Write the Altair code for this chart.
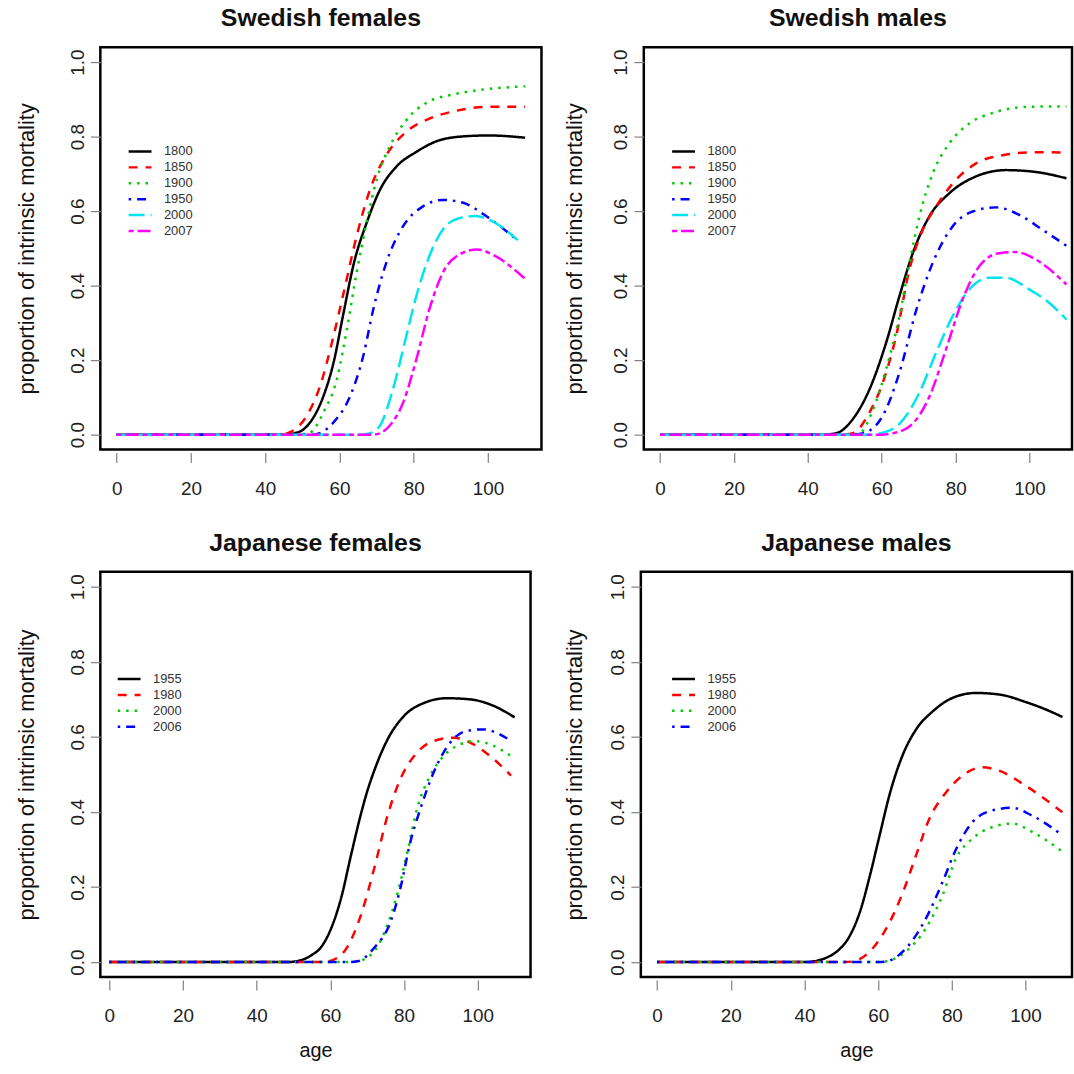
import altair as alt
import pandas as pd

FONT = "Liberation Sans"

x_ticks = [0, 20, 40, 60, 80, 100]
y_ticks = [0.0, 0.2, 0.4, 0.6, 0.8, 1.0]

# ---------------- Swedish females ----------------
sf_years = ["1800", "1850", "1900", "1950", "2000", "2007"]
sf_1800_age = [0, 45, 47, 50, 52.1, 55.7, 58.4, 61.1, 63.9, 67.3, 70.9, 75.3, 80.7, 86.9, 94, 100.3, 110]
sf_1800_val = [0, 0, 0.002, 0.012, 0.033, 0.104, 0.193, 0.327, 0.461, 0.568, 0.657, 0.719, 0.759, 0.79, 0.801, 0.803, 0.797]
sf_1850_age = [0, 44, 47, 51.2, 54.8, 58.4, 61.1, 64.6, 68.2, 72.6, 78, 84.2, 91.3, 100.3, 110]
sf_1850_val = [0, 0, 0.008, 0.051, 0.131, 0.265, 0.38, 0.532, 0.657, 0.75, 0.813, 0.848, 0.869, 0.88, 0.88]
sf_1900_age = [0, 48, 52, 55.7, 59.3, 62, 64.6, 67.3, 70, 73.5, 78, 84.2, 90, 95, 100, 105, 110]
sf_1900_val = [0, 0, 0.005, 0.06, 0.149, 0.283, 0.434, 0.568, 0.684, 0.773, 0.844, 0.895, 0.912, 0.921, 0.928, 0.932, 0.935]
sf_1950_age = [0, 52, 54, 58.4, 62.9, 66.4, 69.1, 72.6, 77.1, 82.4, 87.8, 93.1, 100.3, 108]
sf_1950_val = [0, 0, 0.002, 0.033, 0.104, 0.211, 0.336, 0.461, 0.559, 0.612, 0.63, 0.623, 0.581, 0.521]
sf_2000_age = [0, 66, 68, 70.9, 74.4, 78, 80.7, 84.2, 87.8, 92.2, 96.7, 102, 108]
sf_2000_val = [0, 0, 0.003, 0.024, 0.122, 0.265, 0.372, 0.479, 0.55, 0.581, 0.587, 0.568, 0.522]
sf_2007_age = [0, 69, 71, 73.5, 77.1, 80.7, 84.2, 87.8, 92.2, 97.1, 102, 110]
sf_2007_val = [0, 0, 0.004, 0.024, 0.085, 0.202, 0.336, 0.434, 0.483, 0.497, 0.479, 0.418]

# ---------------- Swedish males ----------------
sm_years = ["1800", "1850", "1900", "1950", "2000", "2007"]
sm_1800_age = [0, 44, 47.7, 52.2, 56.7, 61.2, 64.8, 68.4, 72.9, 78.3, 85.5, 93.6, 101.7, 110]
sm_1800_val = [0, 0, 0.004, 0.042, 0.122, 0.247, 0.372, 0.487, 0.586, 0.648, 0.693, 0.71, 0.705, 0.688]
sm_1850_age = [0, 49, 52.2, 56.7, 60.3, 63.9, 67.5, 71.1, 74.7, 79.2, 85.5, 92.7, 101.7, 110]
sm_1850_val = [0, 0, 0.004, 0.06, 0.14, 0.265, 0.443, 0.55, 0.612, 0.674, 0.728, 0.75, 0.758, 0.757]
sm_1900_age = [0, 50, 54, 57.6, 61.2, 64.8, 67.5, 70.2, 73.8, 78.3, 83.7, 90.9, 99.9, 110]
sm_1900_val = [0, 0, 0.004, 0.066, 0.176, 0.318, 0.461, 0.586, 0.701, 0.782, 0.835, 0.866, 0.88, 0.881]
sm_1950_age = [0, 52, 55, 60.3, 64.8, 69.4, 73.8, 79.2, 84.6, 90.9, 97.2, 103.5, 110]
sm_1950_val = [0, 0, 0.004, 0.051, 0.167, 0.336, 0.461, 0.559, 0.599, 0.61, 0.59, 0.55, 0.507]
sm_2000_age = [0, 57, 59.4, 64.8, 70.2, 74.7, 79.2, 83.7, 89.1, 93.6, 99.9, 105.3, 110]
sm_2000_val = [0, 0, 0.003, 0.029, 0.113, 0.22, 0.318, 0.39, 0.421, 0.421, 0.39, 0.354, 0.309]
sm_2007_age = [0, 60, 62.1, 67.5, 72.9, 77.4, 81.9, 86.4, 91.8, 96.3, 101.7, 110]
sm_2007_val = [0, 0, 0.002, 0.022, 0.102, 0.229, 0.363, 0.452, 0.487, 0.49, 0.47, 0.403]

# ---------------- Japanese females ----------------
jf_years = ["1955", "1980", "2000", "2006"]
jf_1955_age = [0, 48, 51.2, 54.8, 57.5, 60, 62.9, 65.6, 68.3, 70, 71.9, 75.5, 79.9, 85.3, 91.6, 97.9, 104.2, 110]
jf_1955_val = [0, 0, 0.003, 0.018, 0.04, 0.085, 0.17, 0.285, 0.395, 0.455, 0.51, 0.593, 0.655, 0.69, 0.703, 0.7, 0.683, 0.652]
jf_1980_age = [0, 56, 59.3, 63.8, 68.3, 71.9, 75.5, 79, 83.5, 88, 93.4, 97.9, 103.3, 109]
jf_1980_val = [0, 0, 0.002, 0.029, 0.126, 0.25, 0.39, 0.488, 0.558, 0.589, 0.598, 0.585, 0.549, 0.497]
jf_2000_age = [0, 65, 67.4, 71.9, 75.5, 78.1, 80.9, 83.5, 87.1, 90.7, 95.2, 98.8, 103.3, 109]
jf_2000_val = [0, 0, 0.002, 0.029, 0.1, 0.179, 0.294, 0.408, 0.497, 0.549, 0.58, 0.589, 0.58, 0.549]
jf_2006_age = [0, 65, 67.4, 71.9, 76.4, 79, 81.7, 84.4, 88, 92.5, 97, 101.5, 105.1, 109]
jf_2006_val = [0, 0, 0.002, 0.038, 0.109, 0.197, 0.32, 0.408, 0.505, 0.585, 0.616, 0.62, 0.611, 0.589]

# ---------------- Japanese males ----------------
jm_years = ["1955", "1980", "2000", "2006"]
jm_1955_age = [0, 40, 42.5, 46, 49, 52, 55.1, 57.8, 60.4, 63.2, 66.8, 70.3, 74.8, 80.2, 86.5, 92.8, 100, 105, 110]
jm_1955_val = [0, 0, 0.002, 0.012, 0.03, 0.065, 0.135, 0.232, 0.338, 0.45, 0.555, 0.62, 0.668, 0.704, 0.717, 0.713, 0.693, 0.675, 0.653]
jm_1980_age = [0, 51, 53.3, 57.8, 62.3, 66.8, 70.3, 73.9, 78.4, 82.9, 88.3, 92.8, 100, 110]
jm_1980_val = [0, 0, 0.002, 0.029, 0.091, 0.188, 0.285, 0.382, 0.452, 0.497, 0.519, 0.51, 0.47, 0.399]
jm_2000_age = [0, 60, 62.3, 67.6, 73, 77.5, 81.1, 85.6, 91, 96.3, 101.8, 110]
jm_2000_val = [0, 0, 0.002, 0.029, 0.091, 0.179, 0.276, 0.329, 0.36, 0.369, 0.347, 0.294]
jm_2006_age = [0, 60, 62.3, 67.6, 73, 77.5, 81.1, 85.6, 91, 96.3, 101.8, 110]
jm_2006_val = [0, 0, 0.002, 0.037, 0.117, 0.214, 0.3, 0.373, 0.404, 0.411, 0.39, 0.338]

# styles (R palette / lty)
col6 = ["#000000", "#FF0000", "#00CD00", "#0000FF", "#00E5EE", "#FF00FF"]
dash6 = [[1, 0], [9, 8], [2.5, 6], [2.5, 6, 9, 6], [16, 6], [5, 4, 13, 4]]
col4 = col6[:4]
dash4 = dash6[:4]


def frame(years, ages, vals):
    rows = []
    for yr, a, v in zip(years, ages, vals):
        for ai, vi in zip(a, v):
            rows.append({"year": yr, "age": ai, "value": vi})
    return pd.DataFrame(rows)


sf_df = frame(sf_years,
              [sf_1800_age, sf_1850_age, sf_1900_age, sf_1950_age, sf_2000_age, sf_2007_age],
              [sf_1800_val, sf_1850_val, sf_1900_val, sf_1950_val, sf_2000_val, sf_2007_val])
sm_df = frame(sm_years,
              [sm_1800_age, sm_1850_age, sm_1900_age, sm_1950_age, sm_2000_age, sm_2007_age],
              [sm_1800_val, sm_1850_val, sm_1900_val, sm_1950_val, sm_2000_val, sm_2007_val])
jf_df = frame(jf_years,
              [jf_1955_age, jf_1980_age, jf_2000_age, jf_2006_age],
              [jf_1955_val, jf_1980_val, jf_2000_val, jf_2006_val])
jm_df = frame(jm_years,
              [jm_1955_age, jm_1980_age, jm_2000_age, jm_2006_age],
              [jm_1955_val, jm_1980_val, jm_2000_val, jm_2006_val])


def panel(df, years, colors, dashes, title, width, height, xmin, xmax, xtitle,
          legend_x, legend_y, ytitle_pad):
    leg = alt.Legend(title=None, orient="none", legendX=legend_x, legendY=legend_y,
                     symbolType="stroke", symbolSize=529, symbolStrokeWidth=2.5,
                     labelFont=FONT, labelFontSize=13, labelColor="#333333",
                     labelOffset=11, rowPadding=0, clipHeight=16, padding=0)
    xkw = {"title": "age"} if xtitle else {"title": None}
    x = alt.X("age:Q",
              scale=alt.Scale(domain=[xmin, xmax], nice=False, zero=False),
              axis=alt.Axis(values=x_ticks, format="d", tickSize=10, tickColor="#808080",
                            tickWidth=1.2, domain=False, grid=False, offset=3,
                            labelPadding=17, labelFont=FONT, labelFontSize=19,
                            labelColor="#222222", titleFont=FONT, titleFontSize=20,
                            titleFontWeight="normal", titleColor="#111111",
                            titlePadding=15),
              **xkw)
    y = alt.Y("value:Q",
              scale=alt.Scale(domain=[-0.04, 1.04], nice=False, zero=False),
              axis=alt.Axis(values=y_ticks, format=".1f", labelAngle=270, labelAlign="center",
                            labelBaseline="bottom", tickSize=10, tickColor="#808080",
                            tickWidth=1.2, domain=False, grid=False, labelPadding=3,
                            labelFont=FONT, labelFontSize=19, labelColor="#222222",
                            titleFont=FONT, titleFontSize=22, titleFontWeight="normal",
                            titleColor="#111111", titlePadding=ytitle_pad),
              title="proportion of intrinsic mortality")
    return alt.Chart(df).mark_line(strokeWidth=2.5, interpolate="monotone", clip=True).encode(
        x=x, y=y,
        color=alt.Color("year:N", scale=alt.Scale(domain=years, range=colors), legend=leg),
        strokeDash=alt.StrokeDash("year:N", scale=alt.Scale(domain=years, range=dashes), legend=leg),
    ).properties(
        width=width, height=height,
        title=alt.TitleParams(title, font=FONT, fontSize=25, fontWeight="bold", color="#111111",
                              anchor="middle", baseline="alphabetic", offset=-4),
    )


tl = panel(sf_df, sf_years, col6, dash6, "Swedish females", 444, 405, -4.4, 114.4, False, 27, 97, 30)
tr = panel(sm_df, sm_years, col6, dash6, "Swedish males", 431, 405, -4.4, 111.5, False, 27, 97, 26)
bl = panel(jf_df, jf_years, col4, dash4, "Japanese females", 433, 408, -2.4, 114.3, True, 16, 100, 30)
br = panel(jm_df, jm_years, col4, dash4, "Japanese males", 434, 408, -4.4, 112.6, True, 30, 100, 23)

res = dict(x="independent", y="independent", color="independent", strokeDash="independent")

chart = alt.concat(tl, tr, bl, br, columns=2, align="none",
                   spacing={"row": 29, "column": 18}).resolve_scale(**res).resolve_legend(
    color="independent", strokeDash="independent"
).properties(
    padding={"left": 14, "top": 1, "right": 0, "bottom": 0},
    background="white",
).configure_view(stroke="black", strokeWidth=2.5)

chart.save("out.html", embed_options={"renderer": "svg", "actions": False})
